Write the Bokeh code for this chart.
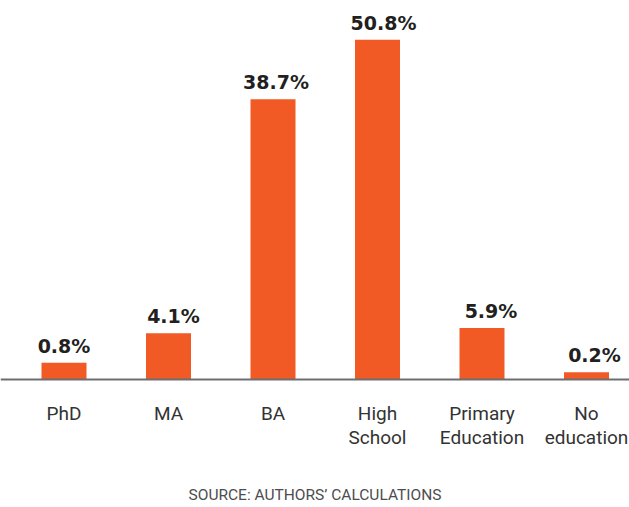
import numpy as np
from bokeh.plotting import figure
from bokeh.models import Range1d, Span, ColumnDataSource
from bokeh.core.properties import value
from bokeh.embed import file_html
from bokeh.resources import INLINE

# ---- data ----
categories = ["PhD", "MA", "BA", "High School", "Primary Education", "No education"]
shares = [0.8, 4.1, 38.7, 50.8, 5.9, 0.2]            # labelled values (%)
bar_heights = [2.5, 6.9, 41.9, 50.8, 7.7, 1.1]       # bar heights as drawn in the picture (%)
source_note = "SOURCE: AUTHORS\u2019 CALCULATIONS"

# ---- layout ----
W, H = 629, 507
px_x = 104.5          # pixels per category
px_y = 6.687          # pixels per percentage point
x0 = -63.5 / px_x
x1 = x0 + W / px_x
y1 = 379 / px_y
y0 = y1 - H / px_y

idx = list(range(len(categories)))
line1 = [c.split(" ", 1)[0] for c in categories]
line2 = [c.split(" ", 1)[1] if " " in c else "" for c in categories]
label_dx = [0, 5, 3, 6, 9, 8]

src = ColumnDataSource(dict(
    x=idx, top=bar_heights, zero=[0] * len(idx),
    lab=[f"{v:.1f}%" for v in shares], dx=label_dx,
    l1=line1, l2=line2,
))

p = figure(width=W, height=H, output_backend="svg", toolbar_location=None,
           x_range=Range1d(x0, x1), y_range=Range1d(y0, y1),
           x_axis_type=None, y_axis_type=None, min_border=0)
p.outline_line_color = None
p.grid.visible = False
p.background_fill_color = "white"
p.border_fill_color = "white"

p.vbar(x="x", top="top", bottom=0, width=45 / px_x, source=src,
       fill_color="#F15A24", line_color=None)

p.add_layout(Span(location=0, dimension="width", line_color="#6d6e71", line_width=2))

p.text(x="x", y="top", text="lab", source=src, x_offset="dx", y_offset=-17,
       text_align="center", text_baseline="alphabetic",
       text_font=value("DejaVu Sans"), text_font_style="bold",
       text_font_size="19px", text_color="#231F20")

p.text(x="x", y="zero", text="l1", source=src, y_offset=34,
       text_align="center", text_baseline="alphabetic",
       text_font=value("Roboto"), text_font_size="19px", text_color="#333333")
p.text(x="x", y="zero", text="l2", source=src, y_offset=58,
       text_align="center", text_baseline="alphabetic",
       text_font=value("Roboto"), text_font_size="19px", text_color="#333333")

p.text(x=[(x0 + x1) / 2], y=[0], text=[source_note], y_offset=115,
       text_align="center", text_baseline="alphabetic",
       text_font=value("Roboto"), text_font_size="15.5px", text_color="#4d4d4d")

open("out.html", "w").write(file_html(p, INLINE))
